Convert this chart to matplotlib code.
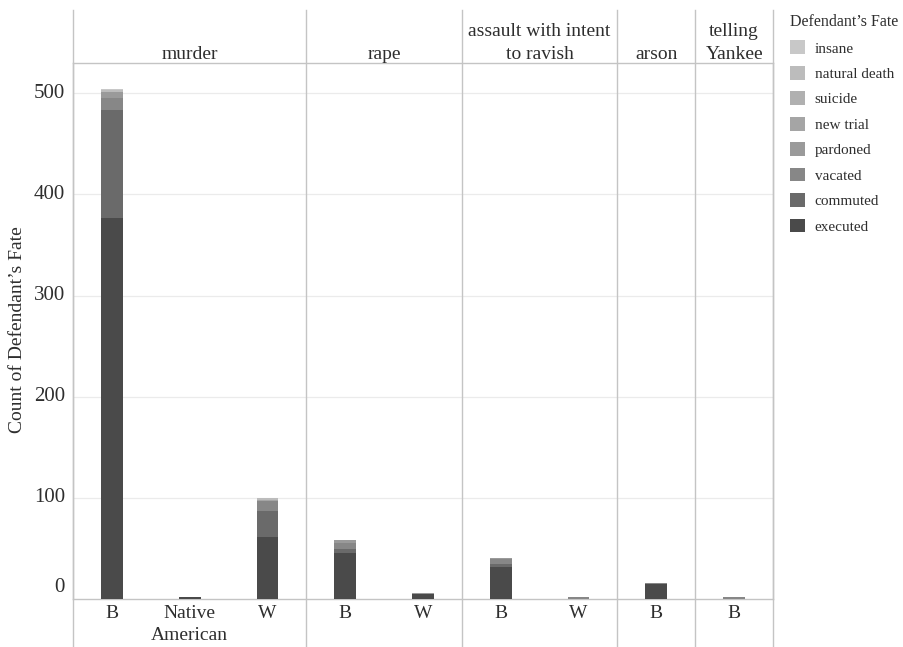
"""Stacked bar chart of defendant fates by crime and race (Tableau style)."""
import matplotlib
matplotlib.use('Agg')

import numpy as np
import matplotlib.pyplot as plt
from matplotlib.patches import Patch

plt.rcParams['font.family'] = ['Liberation Serif', 'DejaVu Serif']

# ---- data ----
crimes = ['murder', 'rape', 'assault with intent\nto ravish', 'arson', 'telling\nYankee']
crime_sizes = [3, 2, 2, 1, 1]
races = ['B', 'Native\nAmerican', 'W', 'B', 'W', 'B', 'W', 'B', 'B']

fates = ['executed', 'commuted', 'vacated', 'pardoned',
         'new trial', 'suicide', 'natural death', 'insane']
executed      = [377, 2, 61, 45, 5, 32, 0, 15, 0]
commuted      = [107, 0, 26, 4, 0, 3, 0, 0, 0]
vacated       = [11, 0, 10, 6, 0, 5, 2, 1, 2]
pardoned      = [6, 0, 0, 3, 1, 1, 0, 0, 0]
new_trial     = [0, 0, 1, 0, 0, 0, 0, 0, 0]
suicide       = [0, 0, 0, 0, 0, 0, 0, 0, 0]
natural_death = [2, 0, 2, 0, 0, 0, 0, 0, 0]
insane        = [1, 0, 0, 0, 0, 0, 0, 0, 0]
series = [executed, commuted, vacated, pardoned,
          new_trial, suicide, natural_death, insane]
colors = ['#4a4a4a', '#6a6a6a', '#878787', '#9a9a9a',
          '#a5a5a5', '#b0b0b0', '#bcbcbc', '#c8c8c8']

yticks = [0, 100, 200, 300, 400, 500]

TXT = '#2e2e2e'
LINE = '#c4c4c4'
GRID = '#ebebeb'

W, H = 904, 647
fig = plt.figure(figsize=(W / 100, H / 100), dpi=100, facecolor='white')
L, R, T, B = 73, 773, 63, 599
ax = fig.add_axes([L / W, (H - B) / H, (R - L) / W, (B - T) / H])

x = np.arange(len(races))
bottom = np.zeros(len(races))
for vals, col in zip(series, colors):
    vals = np.array(vals, dtype=float)
    ax.bar(x, vals, width=0.28, bottom=bottom, color=col, linewidth=0, zorder=3)
    bottom += vals

ax.set_xlim(-0.5, len(races) - 0.5)
ax.set_ylim(0, 530)

# grid
for v in yticks[1:]:
    ax.axhline(v, color=GRID, linewidth=0.9, zorder=1)

# spines
for s in ['left', 'right', 'top', 'bottom']:
    ax.spines[s].set_color(LINE)
    ax.spines[s].set_linewidth(1.0)

# y tick labels (Tableau lifts the zero label)
ax.set_yticks([])
trans_y = ax.get_yaxis_transform()
for v in yticks:
    off = 12 if v == 0 else 0
    ax.annotate(str(v), xy=(0, v), xycoords=trans_y, xytext=(-8, off),
                textcoords='offset pixels',
                ha='right', va='center', fontsize=15, color=TXT)

fig.text(18 / W, (H - 330) / H, 'Count of Defendant\u2019s Fate', rotation=90,
         ha='center', va='center', fontsize=14, color=TXT)

# x tick labels
ax.set_xticks(x)
ax.set_xticklabels(races, fontsize=14, color=TXT, linespacing=1.4)
ax.tick_params(axis='x', length=0, pad=4)

# panel separators through header and label strip
ymax = 1 + (T - 10) / (B - T)
ymin = -(H - B) / (B - T)
edges = np.concatenate([[0], np.cumsum(crime_sizes)]) - 0.5
xt = ax.get_xaxis_transform()
for e in edges:
    ax.plot([e, e], [ymin, ymax], transform=xt, color=LINE, linewidth=1.0,
            clip_on=False, zorder=4)

# header labels
for name, a, b in zip(crimes, edges[:-1], edges[1:]):
    ax.text((a + b) / 2, 1 + 0 / (B - T), name, transform=xt, ha='center',
            va='bottom', fontsize=14, color=TXT, linespacing=1.45)

# legend
handles = [Patch(facecolor=c, edgecolor='none', label=f)
           for f, c in zip(fates[::-1], colors[::-1])]
leg = fig.legend(handles=handles, loc='upper left',
                 bbox_to_anchor=(784 / W, (H - 8) / H), frameon=False,
                 title='Defendant\u2019s Fate', fontsize=11,
                 title_fontsize=11.5, handlelength=1.0, handleheight=1.0,
                 labelspacing=0.68, handletextpad=0.6, borderaxespad=0)
leg._legend_box.align = 'left'
for t in leg.get_texts():
    t.set_color(TXT)
leg.get_title().set_color(TXT)

fig.savefig('out.png', dpi=100, facecolor='white')
